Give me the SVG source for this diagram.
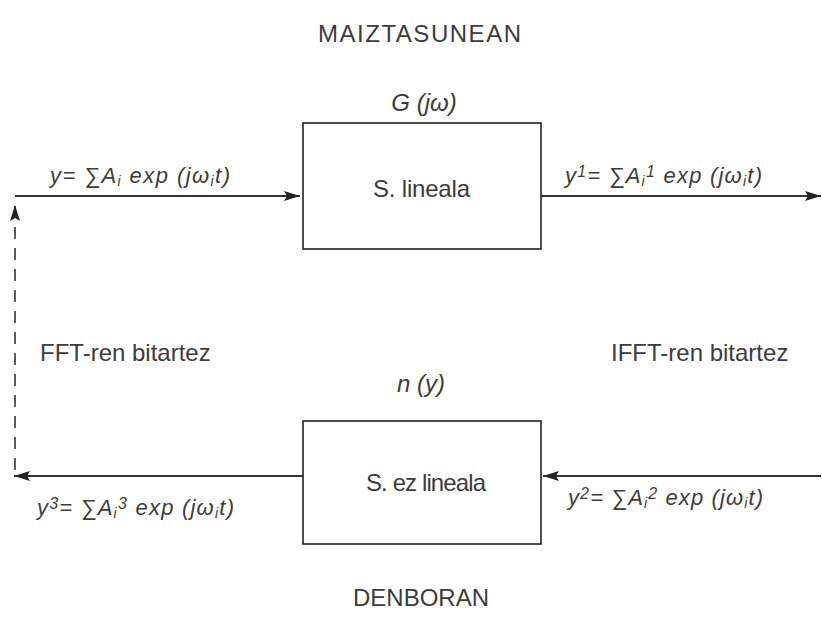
<svg xmlns="http://www.w3.org/2000/svg" width="822" height="628" viewBox="0 0 822 628">
<defs>
<style>
text{font-family:"Liberation Sans",Arial,sans-serif;font-size:24px;fill:#3c3c3c}
.i{font-style:italic}
.c{text-anchor:middle}
.f{font-size:22px;font-style:italic}
.s{font-size:14px}
.p{font-size:16px}
.box{fill:#fff;stroke:#222;stroke-width:1.6}
.ln{stroke:#333;stroke-width:2;fill:none}
.dash{stroke:#333;stroke-width:1.6;fill:none;stroke-dasharray:12,9}
</style>
<marker id="ah" viewBox="0 0 16 10" refX="16" refY="5" markerWidth="16" markerHeight="10" markerUnits="userSpaceOnUse" orient="auto">
<path d="M0,0 L16,5 L0,10 L3,5 Z" fill="#222"/>
</marker>
</defs>
<rect width="822" height="628" fill="#fff"/>
<g id="connectors">
<line class="ln" x1="15" y1="196" x2="300" y2="196" marker-end="url(#ah)"/>
<line class="ln" x1="541" y1="196" x2="821" y2="196" marker-end="url(#ah)"/>
<line class="ln" x1="821" y1="476" x2="543" y2="476" marker-end="url(#ah)"/>
<line class="ln" x1="303" y1="476" x2="14" y2="476" marker-end="url(#ah)"/>
<line class="dash" x1="15" y1="470" x2="15" y2="205" marker-end="url(#ah)"/>
</g>
<g id="box-linear">
<rect class="box" x="303" y="123" width="238" height="126"/>
<text x="373" y="197" textLength="97" lengthAdjust="spacing">S. lineala</text>
</g>
<g id="box-nonlinear">
<rect class="box" x="303" y="421" width="238" height="123"/>
<text x="366" y="491" textLength="120" lengthAdjust="spacing">S. ez lineala</text>
</g>
<g id="labels">
<text x="318" y="42" textLength="203" lengthAdjust="spacing">MAIZTASUNEAN</text>
<text class="c i" x="424" y="111">G (jω)</text>
<text class="f" x="50" y="183" textLength="180" lengthAdjust="spacing">y= ∑A<tspan class="s" dy="3">i</tspan><tspan dy="-3"> exp (jω</tspan><tspan class="s" dy="3">i</tspan><tspan dy="-3">t)</tspan></text>
<text class="f" x="565" y="183" textLength="197" lengthAdjust="spacing">y<tspan class="p" dy="-6">1</tspan><tspan dy="6">= ∑A</tspan><tspan class="s" dy="3">i</tspan><tspan class="p" dy="-9">1</tspan><tspan dy="6"> exp (jω</tspan><tspan class="s" dy="3">i</tspan><tspan dy="-3">t)</tspan></text>
<text x="40" y="361">FFT-ren bitartez</text>
<text x="611" y="361">IFFT-ren bitartez</text>
<text class="c i" x="421" y="392">n (y)</text>
<text class="f" x="37" y="515" textLength="197" lengthAdjust="spacing">y<tspan class="p" dy="-6">3</tspan><tspan dy="6">= ∑A</tspan><tspan class="s" dy="3">i</tspan><tspan class="p" dy="-9">3</tspan><tspan dy="6"> exp (jω</tspan><tspan class="s" dy="3">i</tspan><tspan dy="-3">t)</tspan></text>
<text class="f" x="568" y="505" textLength="195" lengthAdjust="spacing">y<tspan class="p" dy="-6">2</tspan><tspan dy="6">= ∑A</tspan><tspan class="s" dy="3">i</tspan><tspan class="p" dy="-9">2</tspan><tspan dy="6"> exp (jω</tspan><tspan class="s" dy="3">i</tspan><tspan dy="-3">t)</tspan></text>
<text class="c" x="421" y="606">DENBORAN</text>
</g>
</svg>
